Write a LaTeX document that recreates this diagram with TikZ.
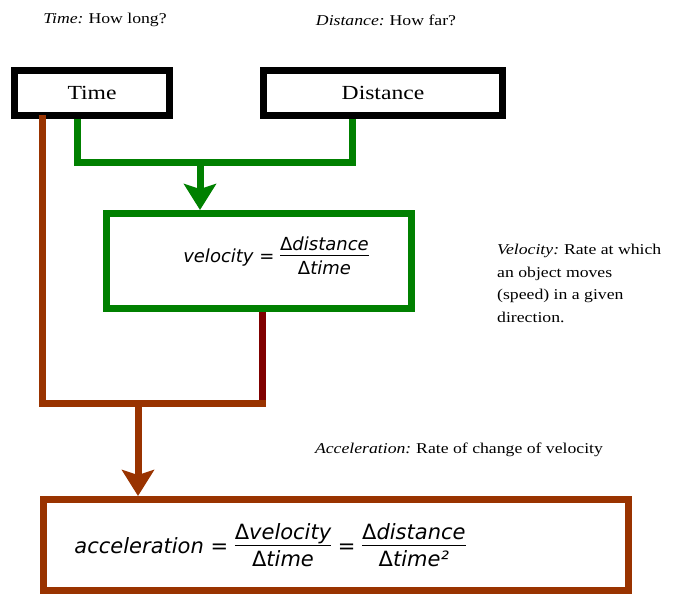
\documentclass[tikz,border=0pt]{standalone}
\usepackage{fontspec}
\setmainfont{Liberation Serif}
\newfontfamily\lbl[FakeStretch=1.18]{Liberation Serif}
\newfontfamily\fml[UprightFont=*-Oblique]{DejaVu Sans}
\newfontfamily\fmlup{DejaVu Sans}
\newcommand\Dl{{\fmlup Δ}}
\usetikzlibrary{arrows.meta}
\definecolor{gr}{RGB}{0,128,0}
\definecolor{br}{RGB}{153,51,0}
\definecolor{dr}{RGB}{128,0,0}
\newcommand\fracx[2]{\begin{tabular}{@{}c@{}}#1\\[-2pt]\hline\rule{0pt}{1.05em}#2\end{tabular}}
\begin{document}
\begin{tikzpicture}[x=1pt,y=-1pt,
  boxk/.style={draw=black,line width=6.5pt,rectangle,inner sep=0pt,fill=white},
  boxg/.style={draw=gr,line width=7pt,rectangle,inner sep=0pt},
  boxb/.style={draw=br,line width=7pt,rectangle,inner sep=0pt},
  gline/.style={draw=gr,line width=7pt},
  bline/.style={draw=br,line width=7pt},
  dline/.style={draw=dr,line width=7pt},
  head/.tip={Stealth[length=26pt,width=32pt,inset=5pt]},
  note/.style={font=\lbl\fontsize{15}{22.5}\selectfont,inner sep=0pt},
  big/.style={font=\lbl\fontsize{20}{24}\selectfont}]
\useasboundingbox (0,0) rectangle (673,596);
\node[note] (tl) at (105,20) {\textit{Time:}\hspace{-1pt} How long?};
\node[note] (dl) at (386,20) {\textit{Distance:}\hspace{-1pt} How far?};
\node[boxk,big,minimum width=155pt,minimum height=45pt] (time) at (92,93) {Time};
\node[boxk,big,minimum width=239pt,minimum height=45pt] (dist) at (383,93) {Distance};
\node[boxg,minimum width=305pt,minimum height=95pt] (vel) at (259,261) {};
\node[font=\fml\fontsize{18}{22}\selectfont,inner sep=0pt] (vf) at (276,258)
  {velocity = \fracx{\Dl distance}{\Dl time}};
\node[boxb,minimum width=585pt,minimum height=91pt] (acc) at (336,545) {};
\node[font=\fml\fontsize{21}{25}\selectfont,inner sep=0pt] (af) at (270,548)
  {acceleration = \fracx{\Dl velocity}{\Dl time} = \fracx{\Dl distance}{\Dl time²}};
\node[note,anchor=north west,align=left] (vn) at (497,244)
  {\textit{Velocity:}\hspace{-1pt} Rate at which\\an object moves\\(speed) in a given\\direction.};
\node[note] (an) at (459,450) {\textit{Acceleration:}\hspace{-1pt} Rate of change of velocity};
\coordinate (gL) at (77,163);
\coordinate (gR) at (352,163);
\coordinate (gM) at (200,163);
\coordinate (bL) at (42,404);
\coordinate (bR) at (262,404);
\coordinate (bM) at (138,404);
\draw[gline] (time.south -| gL) -- (gL) -- (gR) -- (dist.south -| gR);
\draw[gline,-{head}] (gM) -- (vel.north -| gM);
\draw[dline] (vel.south -| bR) -- (bR);
\draw[bline,line cap=rect] (time.south -| bL) -- (bL) -- (bR);
\draw[bline,-{head}] (bM) -- (acc.north -| bM);
\end{tikzpicture}
\end{document}
